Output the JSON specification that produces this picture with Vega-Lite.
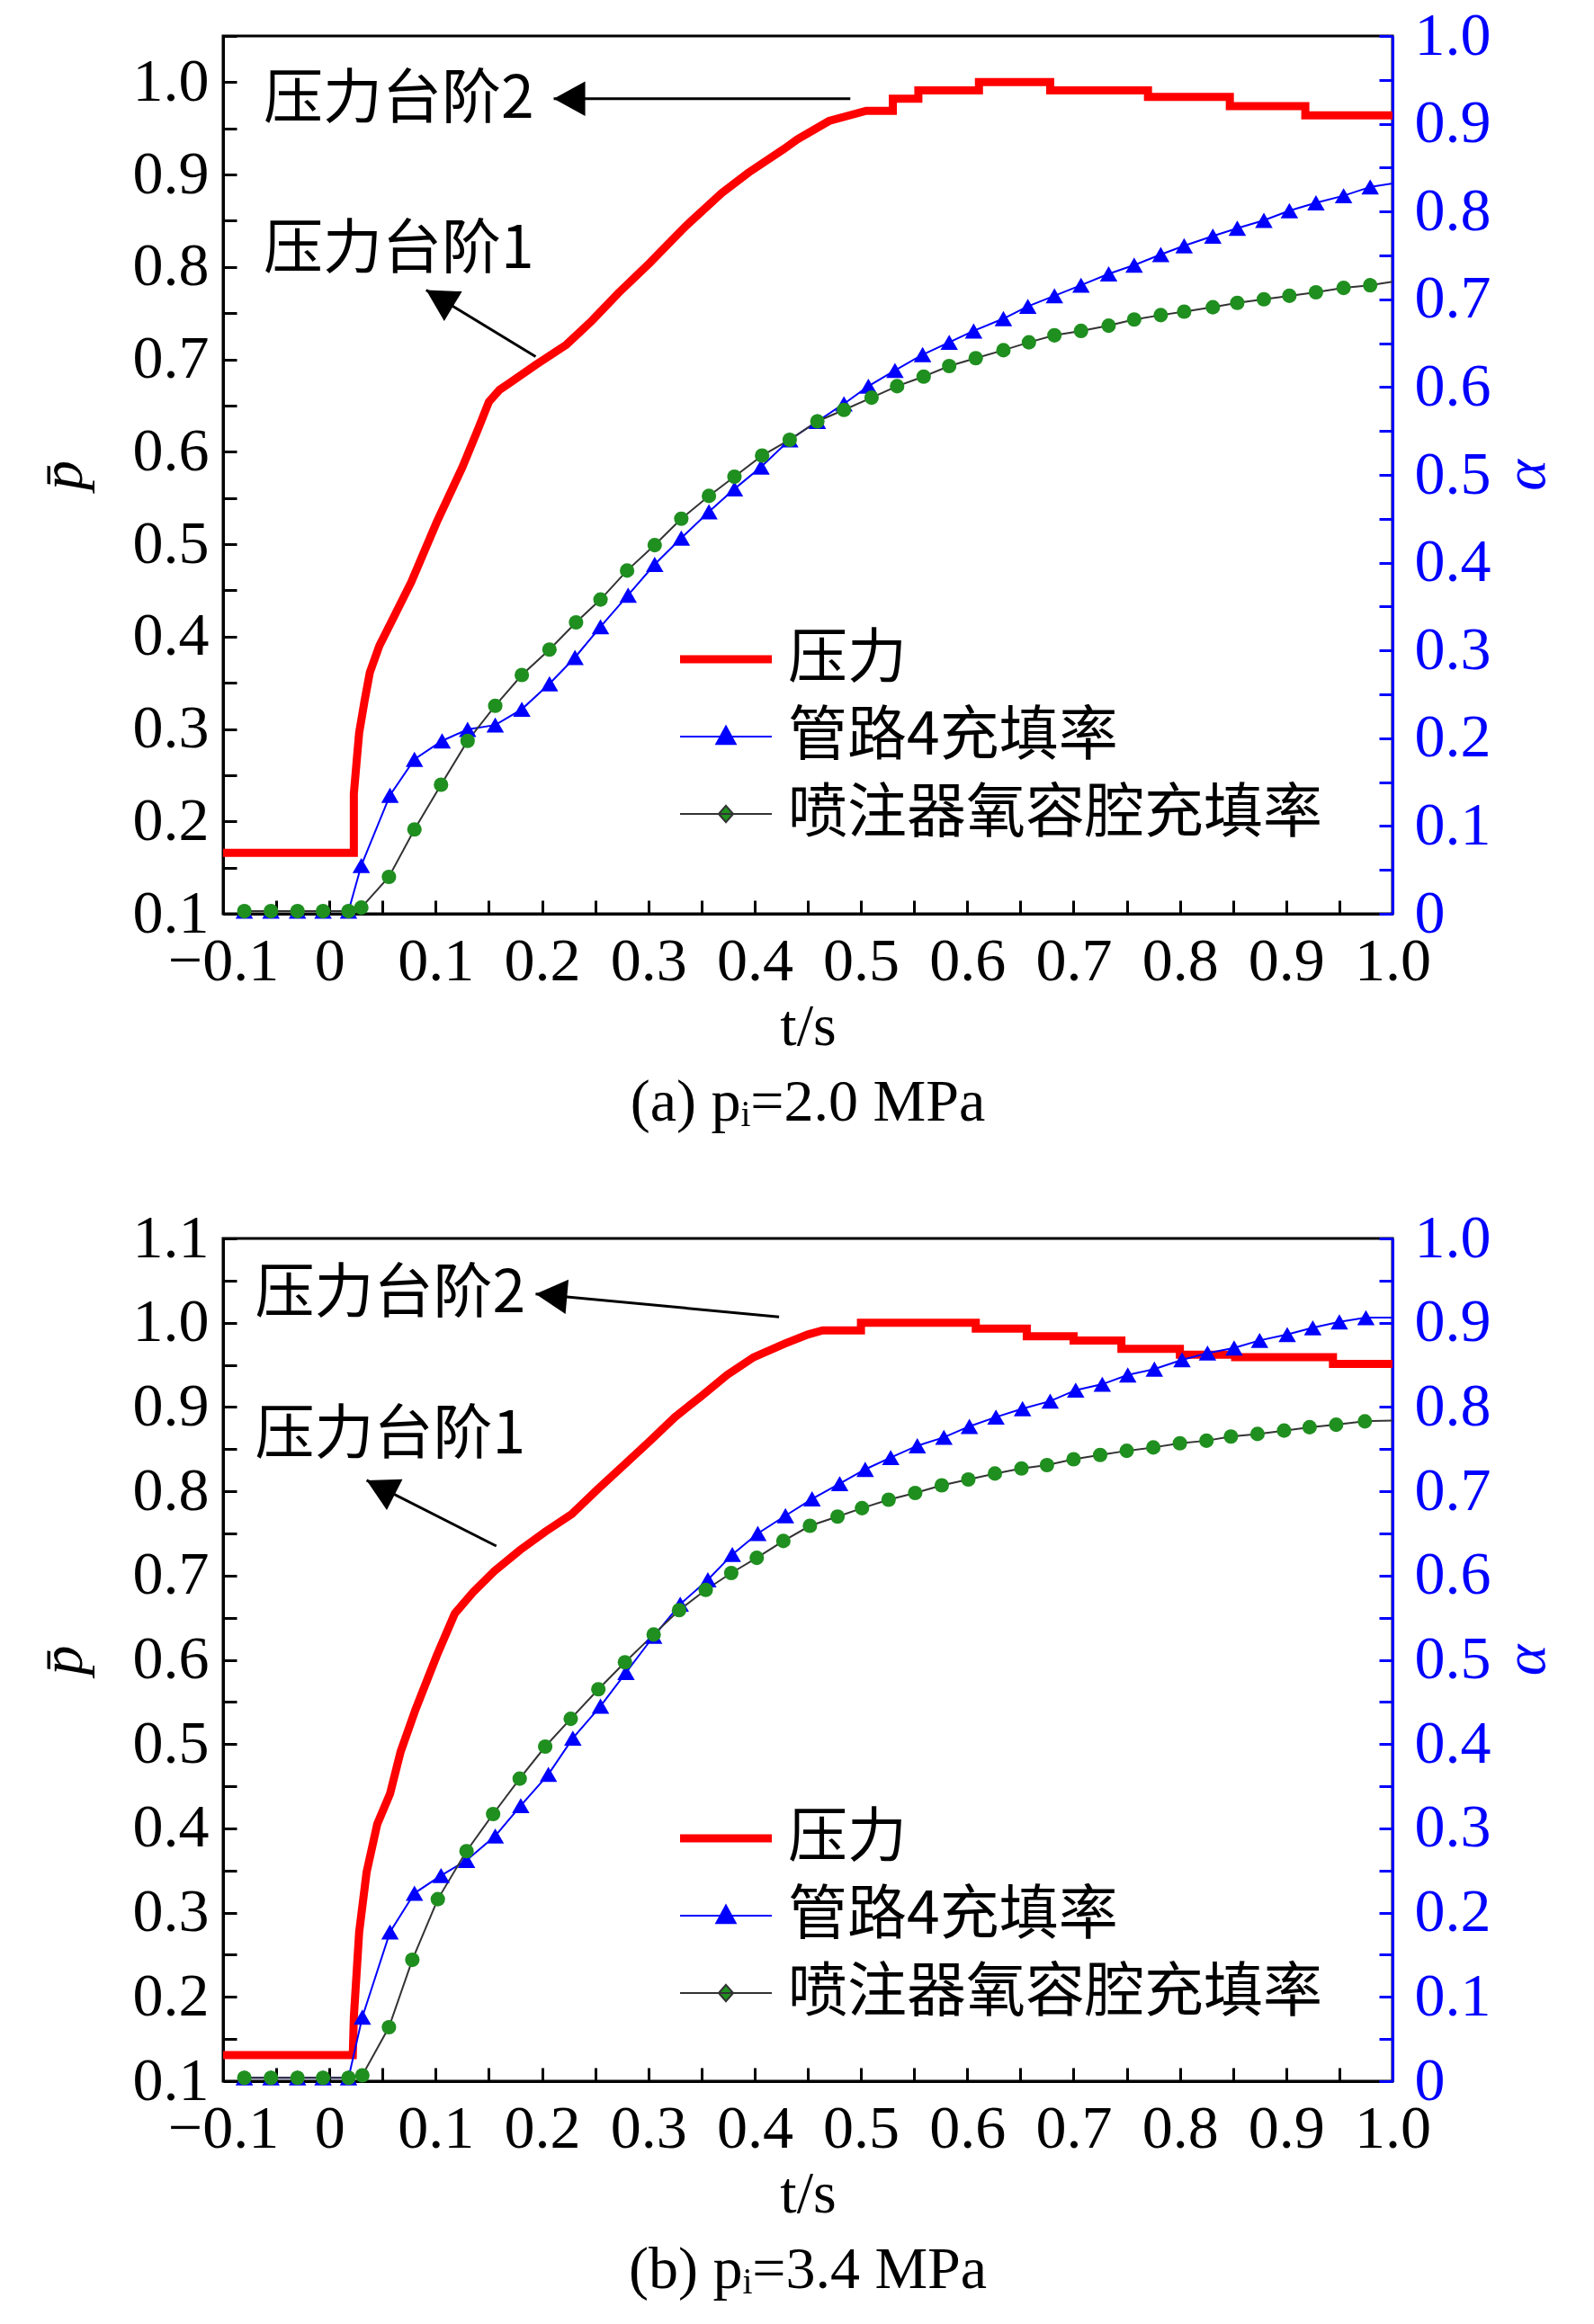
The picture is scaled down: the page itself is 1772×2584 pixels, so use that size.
{
  "$schema": "https://vega.github.io/schema/vega-lite/v6.json",
  "background": "white",
  "padding": {"left": 35, "top": 4, "right": 20, "bottom": 20},
  "spacing": 80,
  "datasets": {
    "pa": [
      {"s": "压力", "t": -0.1, "p": 0.166}, {"s": "压力", "t": 0.023, "p": 0.166}, {"s": "压力", "t": 0.023, "p": 0.23},
      {"s": "压力", "t": 0.026, "p": 0.27}, {"s": "压力", "t": 0.028, "p": 0.296}, {"s": "压力", "t": 0.033, "p": 0.33},
      {"s": "压力", "t": 0.038, "p": 0.361}, {"s": "压力", "t": 0.047, "p": 0.39}, {"s": "压力", "t": 0.057, "p": 0.413},
      {"s": "压力", "t": 0.077, "p": 0.459}, {"s": "压力", "t": 0.101, "p": 0.524}, {"s": "压力", "t": 0.125, "p": 0.583},
      {"s": "压力", "t": 0.14, "p": 0.625}, {"s": "压力", "t": 0.15, "p": 0.654}, {"s": "压力", "t": 0.16, "p": 0.667},
      {"s": "压力", "t": 0.169, "p": 0.674}, {"s": "压力", "t": 0.194, "p": 0.694}, {"s": "压力", "t": 0.223, "p": 0.716},
      {"s": "压力", "t": 0.247, "p": 0.742}, {"s": "压力", "t": 0.272, "p": 0.772}, {"s": "压力", "t": 0.301, "p": 0.804},
      {"s": "压力", "t": 0.335, "p": 0.844}, {"s": "压力", "t": 0.369, "p": 0.88}, {"s": "压力", "t": 0.394, "p": 0.902},
      {"s": "压力", "t": 0.428, "p": 0.928}, {"s": "压力", "t": 0.44, "p": 0.938}, {"s": "压力", "t": 0.47, "p": 0.958},
      {"s": "压力", "t": 0.505, "p": 0.969}, {"s": "压力", "t": 0.53, "p": 0.969}, {"s": "压力", "t": 0.53, "p": 0.982},
      {"s": "压力", "t": 0.554, "p": 0.982}, {"s": "压力", "t": 0.554, "p": 0.991}, {"s": "压力", "t": 0.611, "p": 0.991},
      {"s": "压力", "t": 0.611, "p": 1.0}, {"s": "压力", "t": 0.678, "p": 1.0}, {"s": "压力", "t": 0.678, "p": 0.991},
      {"s": "压力", "t": 0.77, "p": 0.991}, {"s": "压力", "t": 0.77, "p": 0.984}, {"s": "压力", "t": 0.847, "p": 0.984},
      {"s": "压力", "t": 0.847, "p": 0.974}, {"s": "压力", "t": 0.918, "p": 0.974}, {"s": "压力", "t": 0.918, "p": 0.964},
      {"s": "压力", "t": 1.0, "p": 0.964}
    ],
    "fa": [
      {"s": "管路4充填率", "t": -0.08, "a": 0.003}, {"s": "管路4充填率", "t": -0.055, "a": 0.003}, {"s": "管路4充填率", "t": -0.03, "a": 0.003},
      {"s": "管路4充填率", "t": -0.006, "a": 0.003}, {"s": "管路4充填率", "t": 0.018, "a": 0.003}, {"s": "管路4充填率", "t": 0.03, "a": 0.055},
      {"s": "管路4充填率", "t": 0.057, "a": 0.135}, {"s": "管路4充填率", "t": 0.08, "a": 0.176}, {"s": "管路4充填率", "t": 0.106, "a": 0.197},
      {"s": "管路4充填率", "t": 0.13, "a": 0.21}, {"s": "管路4充填率", "t": 0.156, "a": 0.215}, {"s": "管路4充填率", "t": 0.181, "a": 0.233},
      {"s": "管路4充填率", "t": 0.207, "a": 0.262}, {"s": "管路4充填率", "t": 0.231, "a": 0.292}, {"s": "管路4充填率", "t": 0.255, "a": 0.327},
      {"s": "管路4充填率", "t": 0.281, "a": 0.363}, {"s": "管路4充填率", "t": 0.306, "a": 0.398}, {"s": "管路4充填率", "t": 0.331, "a": 0.428},
      {"s": "管路4充填率", "t": 0.357, "a": 0.458}, {"s": "管路4充填率", "t": 0.381, "a": 0.484}, {"s": "管路4充填率", "t": 0.406, "a": 0.509},
      {"s": "管路4充填率", "t": 0.433, "a": 0.54}, {"s": "管路4充填率", "t": 0.459, "a": 0.561}, {"s": "管路4充填率", "t": 0.484, "a": 0.581},
      {"s": "管路4充填率", "t": 0.507, "a": 0.601}, {"s": "管路4充填率", "t": 0.532, "a": 0.619}, {"s": "管路4充填率", "t": 0.558, "a": 0.637},
      {"s": "管路4充填率", "t": 0.583, "a": 0.651}, {"s": "管路4充填率", "t": 0.606, "a": 0.664}, {"s": "管路4充填率", "t": 0.634, "a": 0.678},
      {"s": "管路4充填率", "t": 0.657, "a": 0.692}, {"s": "管路4充填率", "t": 0.682, "a": 0.704}, {"s": "管路4充填率", "t": 0.707, "a": 0.716},
      {"s": "管路4充填率", "t": 0.733, "a": 0.729}, {"s": "管路4充填率", "t": 0.757, "a": 0.739}, {"s": "管路4充填率", "t": 0.782, "a": 0.751},
      {"s": "管路4充填率", "t": 0.804, "a": 0.761}, {"s": "管路4充填率", "t": 0.831, "a": 0.772}, {"s": "管路4充填率", "t": 0.854, "a": 0.781},
      {"s": "管路4充填率", "t": 0.879, "a": 0.79}, {"s": "管路4充填率", "t": 0.903, "a": 0.801}, {"s": "管路4充填率", "t": 0.928, "a": 0.81},
      {"s": "管路4充填率", "t": 0.954, "a": 0.818}, {"s": "管路4充填率", "t": 0.979, "a": 0.828}, {"s": "管路4充填率", "t": 1.0, "a": 0.832},
      {"s": "喷注器氧容腔充填率", "t": -0.08, "a": 0.003}, {"s": "喷注器氧容腔充填率", "t": -0.055, "a": 0.003}, {"s": "喷注器氧容腔充填率", "t": -0.03, "a": 0.003},
      {"s": "喷注器氧容腔充填率", "t": -0.006, "a": 0.003}, {"s": "喷注器氧容腔充填率", "t": 0.018, "a": 0.003}, {"s": "喷注器氧容腔充填率", "t": 0.03, "a": 0.007},
      {"s": "喷注器氧容腔充填率", "t": 0.056, "a": 0.042}, {"s": "喷注器氧容腔充填率", "t": 0.08, "a": 0.096}, {"s": "喷注器氧容腔充填率", "t": 0.105, "a": 0.147},
      {"s": "喷注器氧容腔充填率", "t": 0.13, "a": 0.197}, {"s": "喷注器氧容腔充填率", "t": 0.156, "a": 0.237}, {"s": "喷注器氧容腔充填率", "t": 0.181, "a": 0.272},
      {"s": "喷注器氧容腔充填率", "t": 0.207, "a": 0.301}, {"s": "喷注器氧容腔充填率", "t": 0.232, "a": 0.332}, {"s": "喷注器氧容腔充填率", "t": 0.255, "a": 0.358},
      {"s": "喷注器氧容腔充填率", "t": 0.28, "a": 0.391}, {"s": "喷注器氧容腔充填率", "t": 0.306, "a": 0.42}, {"s": "喷注器氧容腔充填率", "t": 0.331, "a": 0.45},
      {"s": "喷注器氧容腔充填率", "t": 0.357, "a": 0.476}, {"s": "喷注器氧容腔充填率", "t": 0.381, "a": 0.498}, {"s": "喷注器氧容腔充填率", "t": 0.407, "a": 0.522},
      {"s": "喷注器氧容腔充填率", "t": 0.433, "a": 0.54}, {"s": "喷注器氧容腔充填率", "t": 0.459, "a": 0.561}, {"s": "喷注器氧容腔充填率", "t": 0.484, "a": 0.574},
      {"s": "喷注器氧容腔充填率", "t": 0.51, "a": 0.588}, {"s": "喷注器氧容腔充填率", "t": 0.534, "a": 0.601}, {"s": "喷注器氧容腔充填率", "t": 0.559, "a": 0.612},
      {"s": "喷注器氧容腔充填率", "t": 0.583, "a": 0.624}, {"s": "喷注器氧容腔充填率", "t": 0.608, "a": 0.633}, {"s": "喷注器氧容腔充填率", "t": 0.634, "a": 0.642},
      {"s": "喷注器氧容腔充填率", "t": 0.658, "a": 0.651}, {"s": "喷注器氧容腔充填率", "t": 0.682, "a": 0.659}, {"s": "喷注器氧容腔充填率", "t": 0.707, "a": 0.664},
      {"s": "喷注器氧容腔充填率", "t": 0.733, "a": 0.67}, {"s": "喷注器氧容腔充填率", "t": 0.757, "a": 0.677}, {"s": "喷注器氧容腔充填率", "t": 0.782, "a": 0.682},
      {"s": "喷注器氧容腔充填率", "t": 0.804, "a": 0.686}, {"s": "喷注器氧容腔充填率", "t": 0.831, "a": 0.691}, {"s": "喷注器氧容腔充填率", "t": 0.854, "a": 0.696},
      {"s": "喷注器氧容腔充填率", "t": 0.879, "a": 0.7}, {"s": "喷注器氧容腔充填率", "t": 0.903, "a": 0.704}, {"s": "喷注器氧容腔充填率", "t": 0.928, "a": 0.708},
      {"s": "喷注器氧容腔充填率", "t": 0.954, "a": 0.713}, {"s": "喷注器氧容腔充填率", "t": 0.979, "a": 0.716}, {"s": "喷注器氧容腔充填率", "t": 1.0, "a": 0.72}
    ],
    "pb": [
      {"s": "压力", "t": -0.1, "p": 0.131}, {"s": "压力", "t": 0.022, "p": 0.131}, {"s": "压力", "t": 0.023, "p": 0.176},
      {"s": "压力", "t": 0.028, "p": 0.277}, {"s": "压力", "t": 0.035, "p": 0.348}, {"s": "压力", "t": 0.045, "p": 0.405},
      {"s": "压力", "t": 0.057, "p": 0.441}, {"s": "压力", "t": 0.067, "p": 0.491}, {"s": "压力", "t": 0.081, "p": 0.541},
      {"s": "压力", "t": 0.101, "p": 0.605}, {"s": "压力", "t": 0.118, "p": 0.655}, {"s": "压力", "t": 0.135, "p": 0.68},
      {"s": "压力", "t": 0.155, "p": 0.705}, {"s": "压力", "t": 0.179, "p": 0.73}, {"s": "压力", "t": 0.203, "p": 0.752},
      {"s": "压力", "t": 0.228, "p": 0.773}, {"s": "压力", "t": 0.252, "p": 0.802}, {"s": "压力", "t": 0.277, "p": 0.831},
      {"s": "压力", "t": 0.301, "p": 0.859}, {"s": "压力", "t": 0.325, "p": 0.888}, {"s": "压力", "t": 0.35, "p": 0.913},
      {"s": "压力", "t": 0.374, "p": 0.938}, {"s": "压力", "t": 0.399, "p": 0.959}, {"s": "压力", "t": 0.428, "p": 0.975},
      {"s": "压力", "t": 0.45, "p": 0.986}, {"s": "压力", "t": 0.464, "p": 0.991}, {"s": "压力", "t": 0.5, "p": 0.991},
      {"s": "压力", "t": 0.5, "p": 1.0}, {"s": "压力", "t": 0.608, "p": 1.0}, {"s": "压力", "t": 0.608, "p": 0.993},
      {"s": "压力", "t": 0.656, "p": 0.993}, {"s": "压力", "t": 0.656, "p": 0.984}, {"s": "压力", "t": 0.7, "p": 0.984},
      {"s": "压力", "t": 0.7, "p": 0.979}, {"s": "压力", "t": 0.745, "p": 0.979}, {"s": "压力", "t": 0.745, "p": 0.969},
      {"s": "压力", "t": 0.8, "p": 0.969}, {"s": "压力", "t": 0.8, "p": 0.962}, {"s": "压力", "t": 0.852, "p": 0.962},
      {"s": "压力", "t": 0.852, "p": 0.959}, {"s": "压力", "t": 0.944, "p": 0.959}, {"s": "压力", "t": 0.944, "p": 0.951},
      {"s": "压力", "t": 1.0, "p": 0.951}
    ],
    "fb": [
      {"s": "管路4充填率", "t": -0.08, "a": 0.004}, {"s": "管路4充填率", "t": -0.055, "a": 0.004}, {"s": "管路4充填率", "t": -0.03, "a": 0.004},
      {"s": "管路4充填率", "t": -0.006, "a": 0.004}, {"s": "管路4充填率", "t": 0.018, "a": 0.004}, {"s": "管路4充填率", "t": 0.031, "a": 0.076},
      {"s": "管路4充填率", "t": 0.057, "a": 0.177}, {"s": "管路4充填率", "t": 0.08, "a": 0.223}, {"s": "管路4充填率", "t": 0.105, "a": 0.244},
      {"s": "管路4充填率", "t": 0.129, "a": 0.262}, {"s": "管路4充填率", "t": 0.156, "a": 0.291}, {"s": "管路4充填率", "t": 0.18, "a": 0.327},
      {"s": "管路4充填率", "t": 0.206, "a": 0.364}, {"s": "管路4充填率", "t": 0.229, "a": 0.407}, {"s": "管路4充填率", "t": 0.255, "a": 0.445},
      {"s": "管路4充填率", "t": 0.279, "a": 0.485}, {"s": "管路4充填率", "t": 0.305, "a": 0.528}, {"s": "管路4充填率", "t": 0.33, "a": 0.566},
      {"s": "管路4充填率", "t": 0.356, "a": 0.595}, {"s": "管路4充填率", "t": 0.379, "a": 0.625}, {"s": "管路4充填率", "t": 0.403, "a": 0.65},
      {"s": "管路4充填率", "t": 0.429, "a": 0.671}, {"s": "管路4充填率", "t": 0.454, "a": 0.691}, {"s": "管路4充填率", "t": 0.48, "a": 0.709},
      {"s": "管路4充填率", "t": 0.504, "a": 0.726}, {"s": "管路4充填率", "t": 0.528, "a": 0.74}, {"s": "管路4充填率", "t": 0.553, "a": 0.754},
      {"s": "管路4充填率", "t": 0.578, "a": 0.764}, {"s": "管路4充填率", "t": 0.602, "a": 0.777}, {"s": "管路4充填率", "t": 0.627, "a": 0.788},
      {"s": "管路4充填率", "t": 0.652, "a": 0.798}, {"s": "管路4充填率", "t": 0.678, "a": 0.807}, {"s": "管路4充填率", "t": 0.702, "a": 0.82},
      {"s": "管路4充填率", "t": 0.727, "a": 0.827}, {"s": "管路4充填率", "t": 0.751, "a": 0.838}, {"s": "管路4充填率", "t": 0.776, "a": 0.845},
      {"s": "管路4充填率", "t": 0.802, "a": 0.856}, {"s": "管路4充填率", "t": 0.826, "a": 0.864}, {"s": "管路4充填率", "t": 0.851, "a": 0.87},
      {"s": "管路4充填率", "t": 0.875, "a": 0.879}, {"s": "管路4充填率", "t": 0.901, "a": 0.886}, {"s": "管路4充填率", "t": 0.925, "a": 0.894},
      {"s": "管路4充填率", "t": 0.95, "a": 0.901}, {"s": "管路4充填率", "t": 0.975, "a": 0.906}, {"s": "管路4充填率", "t": 1.0, "a": 0.906},
      {"s": "喷注器氧容腔充填率", "t": -0.08, "a": 0.004}, {"s": "喷注器氧容腔充填率", "t": -0.055, "a": 0.004}, {"s": "喷注器氧容腔充填率", "t": -0.03, "a": 0.004},
      {"s": "喷注器氧容腔充填率", "t": -0.006, "a": 0.004}, {"s": "喷注器氧容腔充填率", "t": 0.018, "a": 0.004}, {"s": "喷注器氧容腔充填率", "t": 0.031, "a": 0.007},
      {"s": "喷注器氧容腔充填率", "t": 0.056, "a": 0.064}, {"s": "喷注器氧容腔充填率", "t": 0.078, "a": 0.144}, {"s": "喷注器氧容腔充填率", "t": 0.102, "a": 0.216},
      {"s": "喷注器氧容腔充填率", "t": 0.129, "a": 0.273}, {"s": "喷注器氧容腔充填率", "t": 0.154, "a": 0.317}, {"s": "喷注器氧容腔充填率", "t": 0.179, "a": 0.359},
      {"s": "喷注器氧容腔充填率", "t": 0.203, "a": 0.397}, {"s": "喷注器氧容腔充填率", "t": 0.227, "a": 0.43}, {"s": "喷注器氧容腔充填率", "t": 0.253, "a": 0.465},
      {"s": "喷注器氧容腔充填率", "t": 0.278, "a": 0.497}, {"s": "喷注器氧容腔充填率", "t": 0.305, "a": 0.53}, {"s": "喷注器氧容腔充填率", "t": 0.329, "a": 0.559},
      {"s": "喷注器氧容腔充填率", "t": 0.354, "a": 0.583}, {"s": "喷注器氧容腔充填率", "t": 0.378, "a": 0.603}, {"s": "喷注器氧容腔充填率", "t": 0.402, "a": 0.621},
      {"s": "喷注器氧容腔充填率", "t": 0.427, "a": 0.641}, {"s": "喷注器氧容腔充填率", "t": 0.452, "a": 0.659}, {"s": "喷注器氧容腔充填率", "t": 0.478, "a": 0.67},
      {"s": "喷注器氧容腔充填率", "t": 0.501, "a": 0.68}, {"s": "喷注器氧容腔充填率", "t": 0.526, "a": 0.69}, {"s": "喷注器氧容腔充填率", "t": 0.551, "a": 0.698},
      {"s": "喷注器氧容腔充填率", "t": 0.576, "a": 0.707}, {"s": "喷注器氧容腔充填率", "t": 0.601, "a": 0.714}, {"s": "喷注器氧容腔充填率", "t": 0.626, "a": 0.721},
      {"s": "喷注器氧容腔充填率", "t": 0.651, "a": 0.727}, {"s": "喷注器氧容腔充填率", "t": 0.675, "a": 0.731}, {"s": "喷注器氧容腔充填率", "t": 0.7, "a": 0.738},
      {"s": "喷注器氧容腔充填率", "t": 0.725, "a": 0.743}, {"s": "喷注器氧容腔充填率", "t": 0.75, "a": 0.748}, {"s": "喷注器氧容腔充填率", "t": 0.775, "a": 0.752},
      {"s": "喷注器氧容腔充填率", "t": 0.8, "a": 0.757}, {"s": "喷注器氧容腔充填率", "t": 0.825, "a": 0.76}, {"s": "喷注器氧容腔充填率", "t": 0.848, "a": 0.765},
      {"s": "喷注器氧容腔充填率", "t": 0.873, "a": 0.768}, {"s": "喷注器氧容腔充填率", "t": 0.898, "a": 0.772}, {"s": "喷注器氧容腔充填率", "t": 0.922, "a": 0.776},
      {"s": "喷注器氧容腔充填率", "t": 0.947, "a": 0.779}, {"s": "喷注器氧容腔充填率", "t": 0.974, "a": 0.783}, {"s": "喷注器氧容腔充填率", "t": 1.0, "a": 0.784}
    ],
    "arrows_a": [
      {"id": 2, "t": 0.49, "p": 0.982, "t2": 0.211, "p2": 0.982},
      {"id": 1, "t": 0.194, "p": 0.703, "t2": 0.091, "p2": 0.775}
    ],
    "arrows_b": [
      {"id": 2, "t": 0.423, "p": 1.007, "t2": 0.194, "p2": 1.034},
      {"id": 1, "t": 0.157, "p": 0.735, "t2": 0.035, "p2": 0.813}
    ],
    "notes_a": [
      {"t": -0.062, "p": 0.981, "label": "压力台阶2"},
      {"t": -0.062, "p": 0.818, "label": "压力台阶1"}
    ],
    "notes_b": [
      {"t": -0.07, "p": 1.034, "label": "压力台阶2"},
      {"t": -0.07, "p": 0.866, "label": "压力台阶1"}
    ]
  },
  "vconcat": [
    {
      "width": 1300,
      "height": 976,
      "title": {"text": "(a) pᵢ=2.0 MPa", "orient": "bottom", "frame": "group", "anchor": "middle", "offset": 20, "font": "Liberation Serif", "fontSize": 66, "fontWeight": "normal", "color": "black"},
      "layer": [
        {
          "layer": [
            {
              "data": {"name": "pa"},
              "mark": {"type": "line", "strokeWidth": 9, "clip": true},
              "encoding": {
                "x": {"field": "t", "type": "quantitative", "scale": {"domain": [-0.1, 1.0], "nice": false, "zero": false},
                  "axis": {"title": "t/s", "values": [-0.1,-0.05,0,0.05,0.1,0.15,0.2,0.25,0.3,0.35,0.4,0.45,0.5,0.55,0.6,0.65,0.7,0.75,0.8,0.85,0.9,0.95,1.0],
                    "labelExpr": "abs(datum.value*10-round(datum.value*10))<0.001 ? (abs(datum.value)<0.001 ? '0' : format(datum.value,'.1f')) : ''",
                    "labelPadding": 34, "titlePadding": 6}},
                "y": {"field": "p", "type": "quantitative", "scale": {"domain": [0.1, 1.05], "nice": false, "zero": false},
                  "axis": {"title": "p̄", "orient": "left", "titleFontStyle": "italic", "titleAngle": 270, "values": [0.1,0.15,0.2,0.25,0.3,0.35,0.4,0.45,0.5,0.55,0.6,0.65,0.7,0.75,0.8,0.85,0.9,0.95,1.0,1.05],
                    "labelExpr": "abs(datum.value*10-round(datum.value*10))<0.001 ? format(datum.value,'.1f') : ''",
                    "labelPadding": 31, "titlePadding": 43}},
                "color": {"field": "s", "type": "nominal",
                  "scale": {"domain": ["压力", "管路4充填率", "喷注器氧容腔充填率"], "range": ["#ff0000", "#0000ff", "#333333"]},
                  "legend": {"orient": "none", "legendX": 526, "legendY": 660, "title": null, "padding": 0,
                    "labelFont": "Noto Sans CJK SC", "labelFontSize": 66, "labelColor": "black", "labelLimit": 1000,
                    "labelOffset": 36, "rowPadding": 20, "symbolSize": 2601, "symbolStrokeWidth": 2,
                    "encode": {"symbols": {"update": {
                      "shape": {"signal": "datum.value == '压力' ? 'M-2,0H2' : datum.value == '管路4充填率' ? 'M-2,0H2M-0.42,0.32L0,-0.45L0.42,0.32Z' : 'M-2,0H2M0,-0.36L0.32,0L0,0.36L-0.32,0Z'"},
                      "fill": {"signal": "datum.value == '压力' ? 'transparent' : datum.value == '管路4充填率' ? '#0000ff' : '#1f8f1f'"},
                      "stroke": {"signal": "datum.value == '压力' ? '#ff0000' : datum.value == '管路4充填率' ? '#0000ff' : '#333333'"},
                      "strokeWidth": {"signal": "datum.value == '压力' ? 9 : 2"},
                      "opacity": {"value": 1}}}}}}
              }
            },
            {
              "data": {"name": "arrows_a"},
              "mark": {"type": "rule", "color": "black", "strokeWidth": 3},
              "encoding": {
                "x": {"field": "t", "type": "quantitative"}, "y": {"field": "p", "type": "quantitative"},
                "x2": {"field": "t2"}, "y2": {"field": "p2"}
              }
            },
            {
              "data": {"name": "arrows_a"},
              "transform": [{"filter": "datum.id == 2"}],
              "mark": {"type": "point", "shape": "M0,0L0.55,1L-0.55,1Z", "size": 4900, "filled": true, "color": "black", "opacity": 1, "angle": 270},
              "encoding": {"x": {"field": "t2", "type": "quantitative"}, "y": {"field": "p2", "type": "quantitative"}}
            },
            {
              "data": {"name": "arrows_a"},
              "transform": [{"filter": "datum.id == 1"}],
              "mark": {"type": "point", "shape": "M0,0L0.55,1L-0.55,1Z", "size": 4900, "filled": true, "color": "black", "opacity": 1, "angle": 301},
              "encoding": {"x": {"field": "t2", "type": "quantitative"}, "y": {"field": "p2", "type": "quantitative"}}
            },
            {
              "data": {"name": "notes_a"},
              "mark": {"type": "text", "align": "left", "baseline": "middle", "font": "Noto Sans CJK SC", "fontSize": 66, "color": "black"},
              "encoding": {"x": {"field": "t", "type": "quantitative"}, "y": {"field": "p", "type": "quantitative"}, "text": {"field": "label"}}
            }
          ]
        },
        {
          "data": {"name": "fa"},
          "layer": [
            {
              "mark": {"type": "line", "strokeWidth": 2},
              "encoding": {
                "x": {"field": "t", "type": "quantitative"},
                "y": {"field": "a", "type": "quantitative", "scale": {"domain": [0, 1.0], "nice": false, "zero": false},
                  "axis": {"title": "α", "orient": "right", "titleFontStyle": "italic", "titleAngle": 270, "titleBaseline": "top", "titleColor": "#0000ff",
                    "labelColor": "#0000ff", "domainColor": "#0000ff", "tickColor": "#0000ff",
                    "values": [0,0.05,0.1,0.15,0.2,0.25,0.3,0.35,0.4,0.45,0.5,0.55,0.6,0.65,0.7,0.75,0.8,0.85,0.9,0.95,1.0],
                    "labelExpr": "abs(datum.value*10-round(datum.value*10))<0.001 ? (abs(datum.value)<0.001 ? '0' : format(datum.value,'.1f')) : ''",
                    "labelPadding": 39, "titlePadding": 7}},
                "color": {"field": "s", "type": "nominal", "scale": {"domain": ["压力", "管路4充填率", "喷注器氧容腔充填率"], "range": ["#ff0000", "#0000ff", "#333333"]}}
              }
            },
            {
              "transform": [{"filter": "datum.t < 0.99"}],
              "mark": {"type": "point", "filled": true, "opacity": 1},
              "encoding": {
                "x": {"field": "t", "type": "quantitative"},
                "y": {"field": "a", "type": "quantitative"},
                "fill": {"field": "s", "type": "nominal", "scale": {"domain": ["管路4充填率", "喷注器氧容腔充填率"], "range": ["#0000ff", "#1f8f1f"]}, "legend": null},
                "shape": {"field": "s", "type": "nominal", "scale": {"domain": ["管路4充填率", "喷注器氧容腔充填率"], "range": ["triangle-up", "circle"]}, "legend": null},
                "size": {"field": "s", "type": "nominal", "scale": {"domain": ["管路4充填率", "喷注器氧容腔充填率"], "range": [380, 260]}, "legend": null}
              }
            }
          ]
        }
      ],
      "resolve": {"scale": {"y": "independent"}}
    },
    {
      "width": 1300,
      "height": 937,
      "title": {"text": "(b) pᵢ=3.4 MPa", "orient": "bottom", "frame": "group", "anchor": "middle", "offset": 20, "font": "Liberation Serif", "fontSize": 66, "fontWeight": "normal", "color": "black"},
      "layer": [
        {
          "layer": [
            {
              "data": {"name": "pb"},
              "mark": {"type": "line", "strokeWidth": 9, "clip": true},
              "encoding": {
                "x": {"field": "t", "type": "quantitative", "scale": {"domain": [-0.1, 1.0], "nice": false, "zero": false},
                  "axis": {"title": "t/s", "values": [-0.1,-0.05,0,0.05,0.1,0.15,0.2,0.25,0.3,0.35,0.4,0.45,0.5,0.55,0.6,0.65,0.7,0.75,0.8,0.85,0.9,0.95,1.0],
                    "labelExpr": "abs(datum.value*10-round(datum.value*10))<0.001 ? (abs(datum.value)<0.001 ? '0' : format(datum.value,'.1f')) : ''",
                    "labelPadding": 34, "titlePadding": 6}},
                "y": {"field": "p", "type": "quantitative", "scale": {"domain": [0.1, 1.1], "nice": false, "zero": false},
                  "axis": {"title": "p̄", "orient": "left", "titleFontStyle": "italic", "titleAngle": 270, "values": [0.1,0.15,0.2,0.25,0.3,0.35,0.4,0.45,0.5,0.55,0.6,0.65,0.7,0.75,0.8,0.85,0.9,0.95,1.0,1.05,1.1],
                    "labelExpr": "abs(datum.value*10-round(datum.value*10))<0.001 ? format(datum.value,'.1f') : ''",
                    "labelPadding": 31, "titlePadding": 43}},
                "color": {"field": "s", "type": "nominal",
                  "scale": {"domain": ["压力", "管路4充填率", "喷注器氧容腔充填率"], "range": ["#ff0000", "#0000ff", "#333333"]},
                  "legend": {"orient": "none", "legendX": 526, "legendY": 634, "title": null, "padding": 0,
                    "labelFont": "Noto Sans CJK SC", "labelFontSize": 66, "labelColor": "black", "labelLimit": 1000,
                    "labelOffset": 36, "rowPadding": 20, "symbolSize": 2601, "symbolStrokeWidth": 2,
                    "encode": {"symbols": {"update": {
                      "shape": {"signal": "datum.value == '压力' ? 'M-2,0H2' : datum.value == '管路4充填率' ? 'M-2,0H2M-0.42,0.32L0,-0.45L0.42,0.32Z' : 'M-2,0H2M0,-0.36L0.32,0L0,0.36L-0.32,0Z'"},
                      "fill": {"signal": "datum.value == '压力' ? 'transparent' : datum.value == '管路4充填率' ? '#0000ff' : '#1f8f1f'"},
                      "stroke": {"signal": "datum.value == '压力' ? '#ff0000' : datum.value == '管路4充填率' ? '#0000ff' : '#333333'"},
                      "strokeWidth": {"signal": "datum.value == '压力' ? 9 : 2"},
                      "opacity": {"value": 1}}}}}}
              }
            },
            {
              "data": {"name": "arrows_b"},
              "mark": {"type": "rule", "color": "black", "strokeWidth": 3},
              "encoding": {
                "x": {"field": "t", "type": "quantitative"}, "y": {"field": "p", "type": "quantitative"},
                "x2": {"field": "t2"}, "y2": {"field": "p2"}
              }
            },
            {
              "data": {"name": "arrows_b"},
              "transform": [{"filter": "datum.id == 2"}],
              "mark": {"type": "point", "shape": "M0,0L0.55,1L-0.55,1Z", "size": 4900, "filled": true, "color": "black", "opacity": 1, "angle": 275},
              "encoding": {"x": {"field": "t2", "type": "quantitative"}, "y": {"field": "p2", "type": "quantitative"}}
            },
            {
              "data": {"name": "arrows_b"},
              "transform": [{"filter": "datum.id == 1"}],
              "mark": {"type": "point", "shape": "M0,0L0.55,1L-0.55,1Z", "size": 4900, "filled": true, "color": "black", "opacity": 1, "angle": 297},
              "encoding": {"x": {"field": "t2", "type": "quantitative"}, "y": {"field": "p2", "type": "quantitative"}}
            },
            {
              "data": {"name": "notes_b"},
              "mark": {"type": "text", "align": "left", "baseline": "middle", "font": "Noto Sans CJK SC", "fontSize": 66, "color": "black"},
              "encoding": {"x": {"field": "t", "type": "quantitative"}, "y": {"field": "p", "type": "quantitative"}, "text": {"field": "label"}}
            }
          ]
        },
        {
          "data": {"name": "fb"},
          "layer": [
            {
              "mark": {"type": "line", "strokeWidth": 2},
              "encoding": {
                "x": {"field": "t", "type": "quantitative"},
                "y": {"field": "a", "type": "quantitative", "scale": {"domain": [0, 1.0], "nice": false, "zero": false},
                  "axis": {"title": "α", "orient": "right", "titleFontStyle": "italic", "titleAngle": 270, "titleBaseline": "top", "titleColor": "#0000ff",
                    "labelColor": "#0000ff", "domainColor": "#0000ff", "tickColor": "#0000ff",
                    "values": [0,0.05,0.1,0.15,0.2,0.25,0.3,0.35,0.4,0.45,0.5,0.55,0.6,0.65,0.7,0.75,0.8,0.85,0.9,0.95,1.0],
                    "labelExpr": "abs(datum.value*10-round(datum.value*10))<0.001 ? (abs(datum.value)<0.001 ? '0' : format(datum.value,'.1f')) : ''",
                    "labelPadding": 39, "titlePadding": 7}},
                "color": {"field": "s", "type": "nominal", "scale": {"domain": ["压力", "管路4充填率", "喷注器氧容腔充填率"], "range": ["#ff0000", "#0000ff", "#333333"]}}
              }
            },
            {
              "transform": [{"filter": "datum.t < 0.99"}],
              "mark": {"type": "point", "filled": true, "opacity": 1},
              "encoding": {
                "x": {"field": "t", "type": "quantitative"},
                "y": {"field": "a", "type": "quantitative"},
                "fill": {"field": "s", "type": "nominal", "scale": {"domain": ["管路4充填率", "喷注器氧容腔充填率"], "range": ["#0000ff", "#1f8f1f"]}, "legend": null},
                "shape": {"field": "s", "type": "nominal", "scale": {"domain": ["管路4充填率", "喷注器氧容腔充填率"], "range": ["triangle-up", "circle"]}, "legend": null},
                "size": {"field": "s", "type": "nominal", "scale": {"domain": ["管路4充填率", "喷注器氧容腔充填率"], "range": [380, 260]}, "legend": null}
              }
            }
          ]
        }
      ],
      "resolve": {"scale": {"y": "independent"}}
    }
  ],
  "resolve": {"legend": {"color": "independent"}, "scale": {"color": "independent", "fill": "independent", "shape": "independent", "size": "independent"}},
  "config": {
    "font": "Liberation Serif",
    "view": {"stroke": "black", "strokeWidth": 3},
    "axis": {"grid": false, "labelFont": "Liberation Serif", "labelFontSize": 68, "titleFont": "Liberation Serif", "titleFontSize": 66,
      "titleFontWeight": "normal", "titleColor": "black", "labelColor": "black", "ticks": true, "tickSize": -15, "tickWidth": 3, "tickColor": "black",
      "domainWidth": 3, "domainColor": "black", "labelFlush": false, "labelOverlap": false, "labelBound": false}
  }
}
